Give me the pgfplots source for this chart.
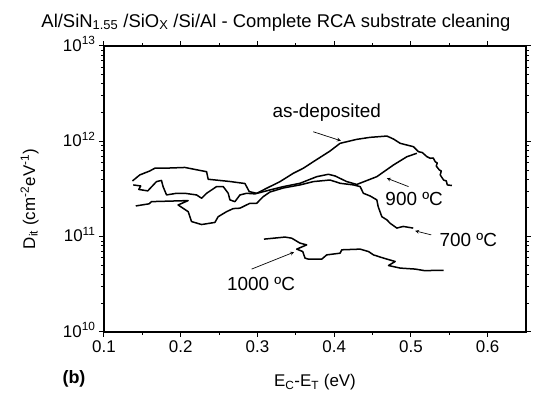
\documentclass[border=0pt]{standalone}
\usepackage{fontspec}
\setmainfont{Liberation Sans}
\usepackage{pgfplots}
\pgfplotsset{compat=1.18}
\begin{document}
\begin{tikzpicture}
\useasboundingbox (-104bp,-61bp) rectangle (441bp,332bp);
\begin{axis}[
  at={(0,0)}, anchor=south west,
  scale only axis, width=422bp, height=286bp,
  xmin=0.1, xmax=0.65, ymin=1e10, ymax=1e13, ymode=log,
  xtick={0.1,0.2,0.3,0.4,0.5,0.6},
  xticklabels={0.1,0.2,0.3,0.4,0.5,0.6},
  minor x tick num=1,
  ytick={1e10,1e11,1e12,1e13},
  yticklabels={10\textsuperscript{10},10\textsuperscript{11},10\textsuperscript{12},10\textsuperscript{13}},
  tick align=outside,
  major tick length=5bp, minor tick length=3bp,
  axis line style={line width=1.2bp},
  every tick/.style={black, line width=1bp},
  ticklabel style={font=\fontsize{17}{19}\selectfont},
  yticklabel style={yshift=2bp},
  clip=false,
]
% as-deposited
\addplot[black, line width=1.5bp, line join=round] coordinates {
(0.1371,3.84e11) (0.1466,4.44e11) (0.1597,4.89e11) (0.1662,5.22e11) (0.1858,5.25e11)
(0.2054,5.32e11) (0.2337,4.80e11) (0.2358,4.00e11) (0.2641,3.79e11) (0.2837,3.61e11)
(0.2893,2.97e11) (0.2990,2.85e11) (0.3120,3.22e11) (0.3294,3.78e11) (0.3467,4.62e11)
(0.3598,5.22e11) (0.3728,6.11e11) (0.3946,7.91e11) (0.4077,9.53e11) (0.4295,1.049e12)
(0.4469,1.101e12) (0.4687,1.136e12) (0.4773,1.057e12) (0.4860,9.53e11) (0.5034,8.78e11)
(0.5099,7.78e11) (0.5148,7.63e11) (0.5209,6.90e11) (0.5252,6.64e11) (0.5291,6.69e11)
(0.5317,6.11e11) (0.5343,5.93e11) (0.5330,5.51e11) (0.5370,5.01e11) (0.5396,4.89e11)
(0.5382,4.44e11) (0.5426,3.93e11) (0.5461,3.84e11) (0.5474,3.49e11) (0.5535,3.44e11)
};
% 900 C
\addplot[black, line width=1.5bp, line join=round] coordinates {
(0.1381,3.49e11) (0.1479,3.40e11) (0.1453,3.13e11) (0.1570,3.02e11) (0.1684,3.78e11)
(0.1749,3.89e11) (0.1770,3.35e11) (0.1815,2.74e11) (0.1945,2.85e11) (0.2054,2.85e11)
(0.2206,2.74e11) (0.2272,2.53e11) (0.2337,2.85e11) (0.2467,3.35e11) (0.2554,3.35e11)
(0.2619,2.85e11) (0.2641,2.43e11) (0.2706,2.33e11) (0.2772,2.74e11) (0.2859,2.85e11)
(0.2967,2.81e11) (0.3163,3.09e11) (0.3337,3.35e11) (0.3555,3.63e11) (0.3773,4.26e11)
(0.3924,4.51e11) (0.4012,4.33e11) (0.4164,3.78e11) (0.4295,3.53e11) (0.4556,4.26e11)
(0.4773,5.65e11) (0.4948,6.90e11) (0.5078,7.49e11)
};
% 700 C
\addplot[black, line width=1.5bp, line join=round] coordinates {
(0.1414,2.10e11) (0.1587,2.21e11) (0.1619,2.33e11) (0.1858,2.36e11) (0.2097,2.39e11)
(0.1966,2.15e11) (0.2097,1.83e11) (0.2141,1.44e11) (0.2272,1.34e11) (0.2445,1.41e11)
(0.2488,1.62e11) (0.2598,1.83e11) (0.2684,1.97e11) (0.2772,1.99e11) (0.2902,2.24e11)
(0.2990,2.24e11) (0.3076,2.63e11) (0.3163,2.94e11) (0.3337,3.24e11) (0.3555,3.49e11)
(0.3728,3.78e11) (0.3946,3.93e11) (0.4077,3.63e11) (0.4251,3.49e11) (0.4338,3.35e11)
(0.4381,2.85e11) (0.4469,2.67e11) (0.4556,2.43e11) (0.4573,2.07e11) (0.4621,1.62e11)
(0.4687,1.50e11) (0.4730,1.38e11) (0.4817,1.23e11) (0.4899,1.28e11) (0.5030,1.23e11)
};
% 1000 C
\addplot[black, line width=1.5bp, line join=round] coordinates {
(0.3085,9.42e10) (0.3359,9.90e10) (0.3446,9.64e10) (0.3555,8.55e10) (0.3642,8.20e10)
(0.3512,7.40e10) (0.3590,6.98e10) (0.3620,5.96e10) (0.3663,5.81e10) (0.3838,5.81e10)
(0.3903,6.44e10) (0.4077,6.71e10) (0.4099,7.28e10) (0.4338,7.40e10) (0.4447,6.98e10)
(0.4512,6.44e10) (0.4642,5.96e10) (0.4795,5.49e10) (0.4708,4.98e10) (0.4860,4.68e10)
(0.5056,4.57e10) (0.5187,4.39e10) (0.5274,4.42e10) (0.5426,4.42e10)
};
% annotations
\draw[-stealth, line width=0.7bp] (axis cs:0.3728,1.26e12) -- (axis cs:0.4086,1.015e12);
\draw[-stealth, line width=0.7bp] (axis cs:0.4969,3.35e11) -- (axis cs:0.4687,4.10e11);
\draw[-stealth, line width=0.7bp] (axis cs:0.5265,1.044e11) -- (axis cs:0.5056,1.15e11);
\draw[-stealth, line width=0.7bp] (axis cs:0.2924,4.57e10) -- (axis cs:0.3477,6.88e10);
\node[font=\fontsize{19}{21}\selectfont] at (axis cs:0.3903,2.0e12) {as-deposited};
\node[font=\fontsize{19}{21}\selectfont] at (axis cs:0.5043,2.46e11) {900 ºC};
\node[font=\fontsize{19}{21}\selectfont] at (axis cs:0.5748,9.15e10) {700 ºC};
\node[font=\fontsize{19}{21}\selectfont] at (axis cs:0.3046,3.20e10) {1000 ºC};
% title and axis labels
\node[anchor=base, inner sep=0pt, font=\fontsize{18.5}{20}\selectfont] at (axis description cs:0.4076,1.0664) {Al/SiN\textsubscript{1.55} /SiO\textsubscript{X} /Si/Al - Complete RCA substrate cleaning};
\node[anchor=base, inner sep=0pt, font=\fontsize{17}{19}\selectfont] at (axis description cs:0.5,-0.1923) {E\textsubscript{C}-E\textsubscript{T} (eV)};
\node[anchor=base, rotate=90, inner sep=0pt, font=\fontsize{17}{19}\selectfont] at (axis description cs:-0.1635,0.465) {D\textsubscript{it} (cm\textsuperscript{-2}eV\textsuperscript{-1})};
\node[anchor=base, inner sep=0pt, font=\bfseries\fontsize{18}{20}\selectfont] at (axis description cs:-0.0711,-0.1818) {(b)};
\end{axis}
\end{tikzpicture}
\end{document}
